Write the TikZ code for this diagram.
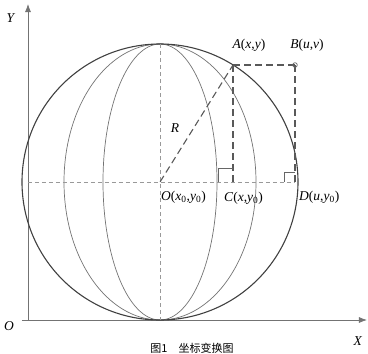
\documentclass[tikz,border=0pt]{standalone}
\usepackage{fontspec}
\setmainfont{Liberation Serif}
\newfontfamily\cjk{Noto Sans CJK SC}
\usetikzlibrary{arrows.meta}
\begin{document}
\begin{tikzpicture}[x=1pt,y=-1pt,
  axis/.style={draw=black!55,line width=0.8pt,-{Latex[length=8pt,width=6pt]}},
  ball/.style={draw=black!75,line width=1.1pt},
  merid/.style={draw=black!55,line width=0.7pt},
  guide/.style={draw=black!40,line width=0.8pt,dash pattern=on 4pt off 3pt},
  bold dash/.style={draw=black!65,line width=1.1pt,dash pattern=on 7pt off 4pt},
  rmark/.style={draw=black!60,line width=0.7pt},
  lbl/.style={font=\fontsize{13.5}{15}\selectfont,inner sep=0pt},
  pt/.style={inner sep=0pt,minimum size=0pt}]
\useasboundingbox (0,0) rectangle (368,354);
% axes
\coordinate (Or) at (28,320);
\coordinate (Ytop) at (28,4);
\coordinate (Xend) at (367,320);
\coordinate (Xstart) at (22,320);
\draw[axis] (Or) -- (Ytop);
\draw[axis] (Xstart) -- (Xend);
% points
\node[pt] (O) at (160,182) {};
\node[pt] (A) at (233,65) {};
\node[pt] (B) at (295,65) {};
\node[pt] (C) at (233,182) {};
\node[pt] (D) at (295,182) {};
\coordinate (Top) at (160,44);
\coordinate (Bot) at (160,320);
\coordinate (Left) at (28,182);
% sphere and meridians
\draw[merid] (O) ellipse [x radius=57, y radius=138];
\draw[merid] (O) ellipse [x radius=96, y radius=138];
\draw[ball] (O) circle [radius=138];
% guides
\draw[guide] (Top) -- (Bot);
\draw[guide] (Left) -- (D);
\draw[bold dash] (O) -- (A);
\draw[bold dash] (A) -- (B) -- (D);
\draw[bold dash] (A) -- (C);
% right-angle marks
\draw[rmark] ([xshift=-15pt]C.center) -- ++(0,-14) -- ++(15,0);
\draw[rmark] ([xshift=-11pt]D.center) -- ++(0,-10) -- ++(11,0);
\draw[rmark] (B) circle [radius=2.3];
% labels
\node[lbl] (Ylbl) at (11,18) {\textit{Y}};
\node[lbl] (Olbl) at (9,326) {\textit{O}};
\node[lbl] (Xlbl) at (358,341) {\textit{X}};
\node[lbl] (Rlbl) at (175,128) {\textit{R}};
\node[lbl] (Albl) at (249,45) {\textit{A}(\textit{x},\textit{y})};
\node[lbl] (Blbl) at (307,45) {\textit{B}(\textit{u},\textit{v})};
\node[lbl,anchor=west] (Olab) at (161,197) {\textit{O}(\textit{x}\textsubscript{0},\textit{y}\textsubscript{0})};
\node[lbl,anchor=west] (Clab) at (224,198) {\textit{C}(\textit{x},\textit{y}\textsubscript{0})};
\node[lbl,anchor=west] (Dlab) at (299,197) {\textit{D}(\textit{u},\textit{y}\textsubscript{0})};
% caption
\node[inner sep=0pt,anchor=south,font=\cjk\fontsize{11}{12}\selectfont] (cap) at (192,353.5) {图1\quad 坐标变换图};
\end{tikzpicture}
\end{document}
